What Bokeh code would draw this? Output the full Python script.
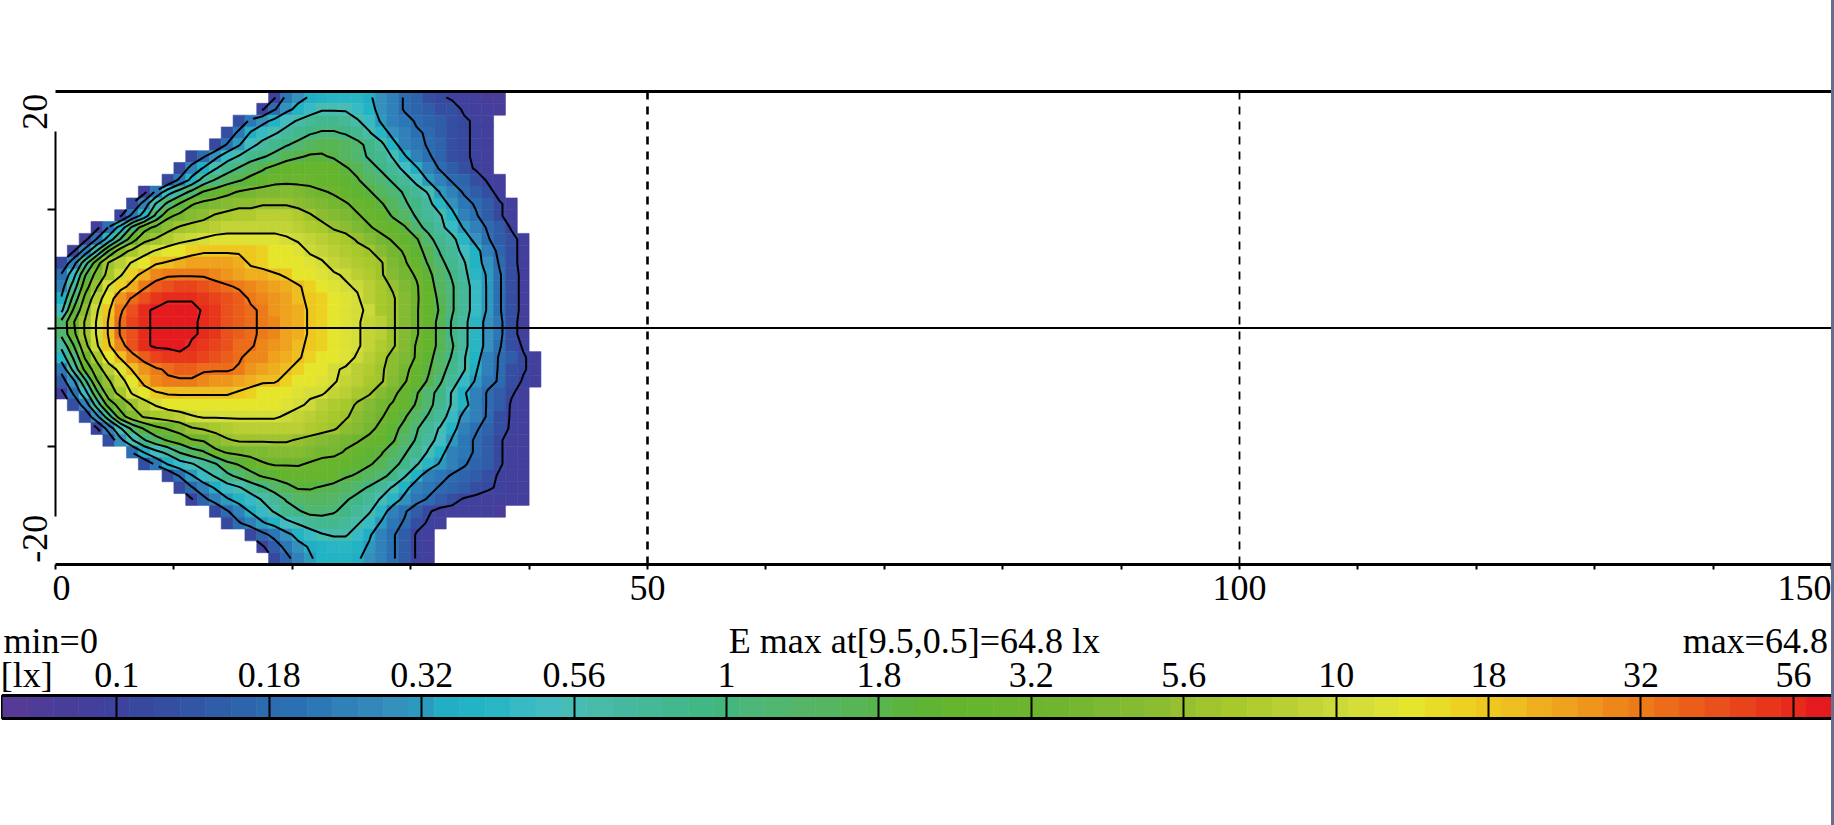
from math import pi
import numpy as np
from bokeh.embed import file_html
from bokeh.resources import INLINE
from bokeh.plotting import figure
from bokeh.layouts import column, row
from bokeh.models import (ColumnDataSource, FixedTicker, LinearAxis, LinearColorMapper,
                          Range1d, Span, Div)

FONT = "Liberation Serif"
FS = "36px"

# colour scale: one entry per band of the legend
PALETTE = ["#553a96","#4f3b98","#493d9a","#433f9c","#3d429e",
           "#37489f","#344fa2","#3256a5","#305da8","#2e64ac","#2c6bb0",
           "#2a70b3","#2c77b6","#3080b9","#3388bb","#3490bc","#2c9abe",
           "#22aec4","#22b3c4","#2ab5c4","#38bac4","#42bcc0","#46bcb2",
           "#47baa8","#46b8a0","#45b898","#43b88f","#42b786","#42b67d",
           "#4db779","#50b770","#55b668","#56b560","#57b556","#58b44d",
           "#5cb43e","#5fb434","#64b52d","#66b52e","#6ab530","#6db52f",
           "#70b530","#76b731","#7db932","#84bb32","#8cbd31","#96c030",
           "#9fc42e","#a8c92c","#b0cb2e","#b9cf33","#c2d436","#cbd939",
           "#d5dd38","#dde234","#e5e52c","#e9dc26","#ecd121","#eec71f",
           "#eebe20","#eeae1e","#eea21d","#ee951c","#ee871a","#ec7a18",
           "#ec6c19","#ea5e1a","#e9501b","#e8431a","#e7361a","#e62a1b",
           "#e51a1e"]

LEGEND_LABELS = ["0.1","0.18","0.32","0.56","1","1.8","3.2","5.6","10","18","32","56"]
LEGEND_LEVELS = [4.5,10.5,16.5,22.5,28.5,34.5,40.5,46.5,52.5,58.5,64.5,70.5]

ROW_Y = [19.5,18.5,17.5,16.5,15.5,14.5,13.5,12.5,11.5,10.5,9.5,8.5,7.5,6.5,5.5,4.5,3.5,2.5,1.5,0.5,
         -0.5,-1.5,-2.5,-3.5,-4.5,-5.5,-6.5,-7.5,-8.5,-9.5,-10.5,-11.5,-12.5,-13.5,-14.5,-15.5,-16.5,-17.5,-18.5,-19.5]
ROW_START = [18,17,15,14,13,11,10,9,7,6,5,3,2,1,0,0,0,0,0,0,
             0,0,0,0,0,0,1,2,3,4,6,7,9,10,11,13,14,16,17,18]
ROW_LEVELS = [
 [4,12,15,17,18,19,19,19,17,15,13,10,9,7,5,4,3,3,2,2],
 [4,10,15,18,20,22,22,22,20,18,15,13,10,9,8,7,6,4,3,3,2],
 [6,12,15,18,21,23,25,26,26,25,23,20,16,14,12,10,9,8,7,5,4,3],
 [6,12,17,20,22,24,26,28,29,29,28,26,23,19,15,13,11,10,8,7,5,4,3],
 [5,11,16,21,24,26,28,30,32,33,33,32,30,27,24,18,14,12,10,9,7,5,4,3],
 [5,10,15,20,23,26,28,30,33,34,35,35,34,32,30,28,26,22,17,13,11,9,7,5,4,3],
 [5,13,17,22,26,29,32,34,36,37,38,38,38,37,35,33,30,28,25,21,17,13,10,8,6,4,3],
 [5,12,18,25,29,32,34,36,37,39,39,39,39,38,37,36,35,32,30,28,25,21,16,13,10,9,7,4,3],
 [3,12,20,25,30,35,37,39,41,42,43,43,44,43,42,41,40,38,36,35,32,30,28,25,22,16,13,10,8,6,3],
 [5,13,23,30,35,40,42,43,44,45,45,46,46,46,45,44,43,42,41,39,37,35,32,29,27,24,19,15,12,10,8,5,3],
 [4,12,19,30,39,42,44,45,47,48,49,49,50,50,50,49,47,45,44,43,41,39,37,34,31,28,25,23,18,13,11,8,5,3],
 [3,11,19,30,38,42,45,47,48,49,50,51,51,51,51,51,51,50,49,48,46,45,43,41,39,37,35,30,27,24,20,16,13,10,8,4],
 [3,11,19,29,38,45,47,49,51,52,53,54,54,54,54,54,54,53,52,51,50,49,48,46,44,42,40,37,35,30,26,24,19,15,11,8,6,3],
 [4,13,23,35,44,48,51,53,55,56,57,58,58,58,58,58,57,56,55,54,52,51,50,49,48,47,44,42,40,36,33,28,25,21,18,14,9,6,3],
 [5,14,26,38,47,50,53,55,58,59,60,61,61,61,61,60,58,57,56,56,55,54,53,51,50,49,48,47,43,41,38,34,30,26,23,18,15,10,6,3],
 [11,20,34,43,48,52,57,60,63,64,64,64,64,63,62,61,60,60,59,58,56,55,54,53,52,50,49,47,44,42,40,36,31,28,24,19,16,11,7,3],
 [14,25,38,46,53,57,60,64,66,67,68,68,67,66,65,64,63,62,61,60,59,57,56,54,53,52,50,48,46,43,41,37,32,29,25,20,16,11,7,3],
 [17,30,42,50,56,62,65,67,69,70,70,70,69,68,67,66,64,63,62,61,59,58,57,55,54,53,50,48,47,44,41,38,33,29,25,20,16,11,7,3],
 [21,35,45,52,58,64,67,70,71,72,72,72,70,69,67,66,65,64,62,61,60,58,57,55,54,53,52,48,47,44,41,37,34,29,25,20,16,11,7,3],
 [30,40,47,53,59,65,68,70,71,72,72,71,70,69,67,66,65,64,63,61,60,58,57,55,54,53,51,50,47,44,41,37,33,28,24,19,15,12,6,3],
 [30,39,47,53,59,65,67,70,71,72,72,71,70,69,67,66,65,64,63,61,60,58,57,55,54,53,51,50,47,44,41,37,33,28,24,19,15,12,6,3],
 [24,34,45,52,58,63,67,70,71,71,72,70,69,68,67,65,65,63,62,61,59,58,57,55,54,53,51,49,47,44,40,37,33,29,24,19,15,11,7,4],
 [19,29,41,48,55,59,63,66,68,69,69,69,68,67,66,65,63,63,61,60,59,57,56,55,54,52,50,48,45,43,40,36,32,28,23,18,14,10,8,5,3],
 [12,24,36,44,50,54,59,62,64,65,66,66,65,65,65,64,62,61,60,59,57,56,55,53,52,50,49,47,45,42,38,35,31,26,23,17,13,10,7,5,3],
 [8,15,27,40,46,51,55,60,63,64,64,64,63,62,62,61,60,59,59,57,56,55,54,53,51,50,48,47,44,41,37,34,29,25,20,16,12,10,7,4,3],
 [3,11,20,33,44,48,53,56,58,59,59,59,59,59,59,58,57,56,55,55,54,53,53,51,50,48,47,44,42,38,35,30,27,22,17,14,10,8,5,3],
 [6,13,25,37,43,47,50,53,55,56,56,56,56,56,56,56,55,55,54,53,52,50,49,48,46,44,42,40,37,34,30,26,22,18,14,10,8,4,3],
 [6,15,26,38,44,47,48,49,50,52,53,53,53,53,53,53,53,52,51,50,49,48,47,45,43,41,38,35,31,28,25,20,15,13,10,7,4,3],
 [4,13,22,30,35,39,41,43,46,47,48,49,50,50,50,50,50,50,49,48,47,45,44,42,39,36,33,29,25,22,18,14,11,9,6,4,3],
 [6,15,22,28,32,35,37,40,41,44,46,47,47,47,47,47,46,45,44,43,42,41,39,37,35,31,28,24,21,16,12,10,8,5,3,3],
 [11,17,21,24,29,32,34,39,41,42,43,43,44,44,44,43,42,42,40,38,36,35,32,29,26,22,18,14,12,10,8,5,3,3],
 [6,12,17,20,22,25,28,33,35,37,40,41,41,41,40,39,38,37,36,35,33,30,27,23,19,16,13,11,9,8,5,3,3],
 [5,11,16,20,23,27,30,33,35,36,37,38,38,38,37,35,34,32,30,27,23,18,14,12,10,9,8,6,4,3,3],
 [5,10,14,17,20,22,25,28,31,33,35,35,34,33,32,30,28,25,22,18,14,12,10,9,8,7,5,4,3,3],
 [4,9,13,16,18,20,23,25,29,31,32,32,31,29,27,25,22,19,15,12,10,8,6,4,3,3,3,3,3],
 [5,10,14,17,20,23,26,28,30,30,29,27,25,23,19,14,11,8,5,3,3,3,3,3,2],
 [5,10,13,16,18,21,23,25,26,26,25,23,20,16,12,10,6,4,3],
 [5,9,12,15,18,20,22,23,23,20,17,14,11,8,4,3],
 [4,8,12,15,17,18,19,19,18,16,14,11,8,4,3],
 [5,9,13,16,18,18,18,17,15,13,11,8,4,3],
]

# frame geometry
X_RANGE = (0, 150)
Y_RANGE = (-20, 20)
NX = 42

cells = {"left": [], "right": [], "top": [], "bottom": [], "level": []}
grid = np.full((len(ROW_Y), NX), np.nan)
for j, (yc, x0, vals) in enumerate(zip(ROW_Y, ROW_START, ROW_LEVELS)):
    for k, v in enumerate(vals):
        cells["left"].append(x0 + k)
        cells["right"].append(x0 + k + 1)
        cells["top"].append(yc + 0.5)
        cells["bottom"].append(yc - 0.5)
        cells["level"].append(v)
        grid[j, x0 + k] = v

mapper = LinearColorMapper(palette=PALETTE, low=0, high=72)

p = figure(width=1831, height=614, frame_width=1776, frame_height=473,
           x_range=Range1d(*X_RANGE), y_range=Range1d(*Y_RANGE),
           output_backend="svg", toolbar_location=None, tools="",
           x_axis_type=None, y_axis_type=None, frame_align=False,
           min_border_left=55, min_border_right=0, min_border_top=91, min_border_bottom=50,
           background_fill_color="white", border_fill_color="white")
p.outline_line_color = None
p.grid.visible = False

src = ColumnDataSource(cells)
color = {"field": "level", "transform": mapper}
p.quad(left="left", right="right", top="top", bottom="bottom", source=src,
       fill_color=color, line_color=color, line_width=0.6)

xs = np.arange(NX) + 0.5
ys = np.array(ROW_Y)
order = np.argsort(ys)
p.contour(xs, ys[order], grid[order], levels=LEGEND_LEVELS, line_color="black", line_width=2)

p.add_layout(Span(location=0, dimension="width", line_color="black", line_width=2))
p.add_layout(Span(location=50, dimension="height", line_color="black", line_width=2.6, line_dash="8 7"))
p.add_layout(Span(location=100, dimension="height", line_color="black", line_width=1.8, line_dash="8 7"))

top_line = LinearAxis(ticker=FixedTicker(ticks=[]))
top_line.axis_line_width = 3
top_line.axis_line_color = "black"
top_line.major_tick_line_color = None
top_line.minor_tick_line_color = None
p.add_layout(top_line, "above")

xa = LinearAxis(ticker=FixedTicker(ticks=[0.5, 50, 100, 147.8],
                                   minor_ticks=list(range(0, 151, 10))),
                major_label_overrides={0.5: "0", 50: "50", 100: "100", 147.8: "150"})
xa.major_label_text_font = FONT
xa.major_label_text_font_size = FS
xa.major_label_text_color = "black"
xa.major_tick_line_color = None
xa.major_tick_out = 5
xa.major_tick_in = 0
xa.minor_tick_out = 5
xa.minor_tick_in = 0
xa.minor_tick_line_width = 2
xa.minor_tick_line_color = "black"
xa.axis_line_width = 3
xa.axis_line_color = "black"
xa.major_label_standoff = 6
p.add_layout(xa, "below")

ya_line = LinearAxis(ticker=FixedTicker(ticks=[-10, 0, 10]), bounds=(-15.9, 16.6),
                     major_label_overrides={-10: "", 0: "", 10: ""})
ya_line.major_tick_out = 8
ya_line.major_tick_in = 0
ya_line.major_tick_line_width = 2
ya_line.major_tick_line_color = "black"
ya_line.minor_tick_line_color = None
ya_line.axis_line_width = 2
ya_line.axis_line_color = "black"
ya_line.major_label_standoff = 0
ya_line.major_label_text_font_size = "1px"
p.add_layout(ya_line, "left")

ya_text = LinearAxis(ticker=FixedTicker(ticks=[-15.8, 19.8]),
                     major_label_overrides={-15.8: "-20", 19.8: "20"})
ya_text.major_label_text_font = FONT
ya_text.major_label_text_font_size = FS
ya_text.major_label_text_color = "black"
ya_text.major_label_orientation = pi / 2
ya_text.major_tick_line_color = None
ya_text.major_tick_out = 0
ya_text.major_tick_in = 0
ya_text.minor_tick_line_color = None
ya_text.axis_line_color = None
ya_text.major_label_standoff = 12
p.add_layout(ya_text, "left")

# legend strip
leg = figure(width=1831, height=211, frame_width=1829, frame_height=23,
             x_range=Range1d(0, 72), y_range=Range1d(0, 1),
             output_backend="svg", toolbar_location=None, tools="",
             x_axis_type=None, y_axis_type=None, frame_align=False,
             min_border_left=2, min_border_right=0, min_border_top=81, min_border_bottom=107,
             background_fill_color="white", border_fill_color="white")
leg.grid.visible = False
leg.outline_line_color = "black"
leg.outline_line_width = 3
band = list(range(len(PALETTE)))
leg.quad(left=band, right=[b + 1 for b in band], top=1, bottom=0,
         fill_color=PALETTE, line_color=PALETTE, line_width=0.6)

UNIT_TICK = 0.95
la_ticks = [UNIT_TICK] + LEGEND_LEVELS
la_labels = ["[lx]"] + LEGEND_LABELS
la = LinearAxis(ticker=FixedTicker(ticks=la_ticks, minor_ticks=LEGEND_LEVELS),
                major_label_overrides=dict(zip(la_ticks, la_labels)))
la.major_label_text_font = FONT
la.major_label_text_font_size = FS
la.major_label_text_color = "black"
la.major_tick_line_color = None
la.major_tick_in = 0
la.major_tick_out = 0
la.minor_tick_in = 23
la.minor_tick_out = 0
la.minor_tick_line_width = 2
la.minor_tick_line_color = "black"
la.axis_line_color = "black"
la.axis_line_width = 3
la.major_label_standoff = 1
leg.add_layout(la, "above")

INFO_TICKS = [1.9, 35.9, 69.0]
INFO_TEXTS = ["min=0", "E max at[9.5,0.5]=64.8 lx", "max=64.8"]
info = LinearAxis(ticker=FixedTicker(ticks=INFO_TICKS),
                  major_label_overrides=dict(zip(INFO_TICKS, INFO_TEXTS)))
info.major_label_text_font = FONT
info.major_label_text_font_size = FS
info.major_label_text_color = "black"
info.major_tick_line_color = None
info.major_tick_in = 0
info.major_tick_out = 0
info.minor_tick_line_color = None
info.axis_line_color = None
info.major_label_standoff = -9
leg.add_layout(info, "above")

base = LinearAxis(ticker=FixedTicker(ticks=[]))
base.axis_line_width = 3
base.axis_line_color = "black"
base.major_tick_line_color = None
base.minor_tick_line_color = None
leg.add_layout(base, "below")

strip = Div(text="", width=3, height=825, margin=(0, 0, 0, 0),
            styles={"background-color": "#6c6c8c"})
left_col = column(p, leg, spacing=0, margin=(0, 0, 0, 0))
root = row(left_col, strip, spacing=0, margin=(0, 0, 0, 0))

open("out.html", "w").write(file_html(root, INLINE))
